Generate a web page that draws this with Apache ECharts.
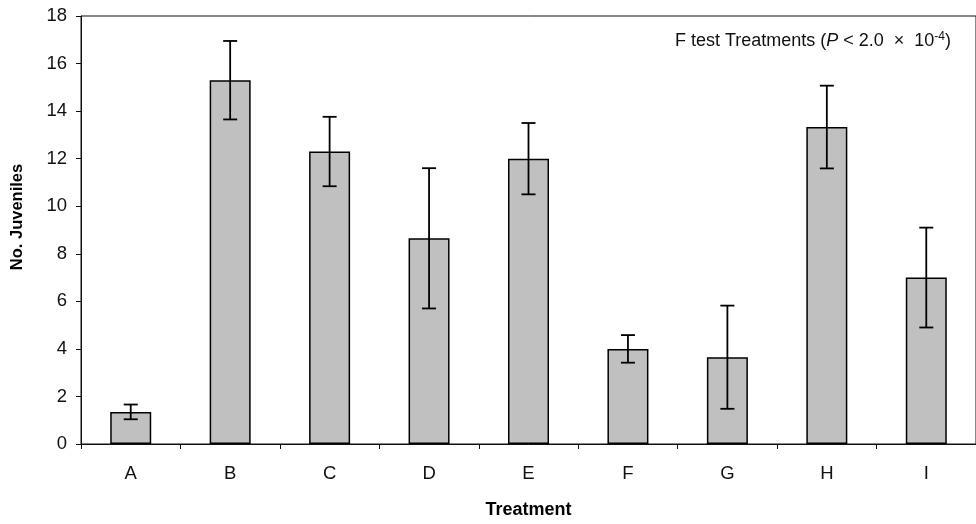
<!DOCTYPE html>
<html>
<head>
<meta charset="utf-8">
<script src="https://cdn.jsdelivr.net/npm/echarts@6/dist/echarts.min.js"></script>
<style>
html,body{margin:0;padding:0;background:#fff;}
#chart{width:976px;height:524px;}
</style>
</head>
<body>
<div id="chart"></div>
<script>
const categories = ['A', 'B', 'C', 'D', 'E', 'F', 'G', 'H', 'I'];
const means = [1.35, 15.3, 12.3, 8.65, 12.0, 4.0, 3.65, 13.33, 7.0];
const errors = [0.31, 1.65, 1.46, 2.95, 1.5, 0.58, 2.17, 1.74, 2.1];
const yTicks = [0, 2, 4, 6, 8, 10, 12, 14, 16, 18];

const FONT = '"Liberation Sans", Arial, sans-serif';
const chart = echarts.init(document.getElementById('chart'), null, {renderer: 'canvas'});

const errData = categories.map((c, i) => [i, means[i], errors[i]]);

chart.setOption({
  animation: false,
  backgroundColor: '#ffffff',
  grid: {
    left: 81, right: -5, top: 16, bottom: 80,
    show: true, borderColor: '#111', borderWidth: 1, backgroundColor: 'transparent'
  },
  xAxis: {
    type: 'category',
    data: categories,
    name: 'Treatment',
    nameLocation: 'middle',
    nameGap: 57,
    nameTextStyle: {fontFamily: FONT, fontWeight: 'bold', fontSize: 18, color: '#000'},
    axisLine: {lineStyle: {color: '#111', width: 1}},
    axisTick: {show: true, length: 5, interval: 0, alignWithLabel: false, lineStyle: {color: '#111'}},
    axisLabel: {fontFamily: FONT, fontSize: 18.5, color: '#111', margin: 20, interval: 0}
  },
  yAxis: {
    type: 'value',
    min: yTicks[0],
    max: yTicks[yTicks.length - 1],
    interval: 2,
    axisLine: {show: true, lineStyle: {color: '#111', width: 1}},
    axisTick: {show: true, length: 5, lineStyle: {color: '#111'}},
    splitLine: {show: false},
    axisLabel: {fontFamily: FONT, fontSize: 18.5, color: '#111', margin: 14}
  },
  graphic: [
    {
      type: 'text',
      x: 17.5, y: 217,
      rotation: Math.PI / 2,
      style: {
        text: 'No. Juveniles',
        font: 'bold 16.5px ' + FONT,
        fill: '#000',
        align: 'center',
        verticalAlign: 'middle'
      }
    },
    {
      type: 'text',
      x: 951, y: 41,
      style: {
        text: '{n|F test Treatments (}{i|P}{n| < 2.0  ×  10}{s|-4}{n|)}',
        align: 'right',
        verticalAlign: 'middle',
        rich: {
          n: {fontFamily: FONT, fontSize: 18, fill: '#111', color: '#111'},
          i: {fontFamily: FONT, fontSize: 18, fontStyle: 'italic', fill: '#111', color: '#111'},
          s: {fontFamily: FONT, fontSize: 12, fill: '#111', color: '#111', verticalAlign: 'top', padding: [0, 0, 9, 0]}
        }
      }
    }
  ],
  series: [
    {
      type: 'bar',
      data: means,
      barWidth: 41,
      itemStyle: {color: '#C0C0C0', borderColor: '#000', borderWidth: 1.5},
      z: 2
    },
    {
      type: 'custom',
      data: errData,
      z: 5,
      renderItem: function (params, api) {
        const x = api.value(0);
        const m = api.value(1);
        const e = api.value(2);
        const top = api.coord([x, m + e]);
        const bot = api.coord([x, m - e]);
        const hw = 7;
        const st = {stroke: '#000', lineWidth: 1.8};
        return {
          type: 'group',
          children: [
            {type: 'line', shape: {x1: top[0], y1: top[1], x2: bot[0], y2: bot[1]}, style: st},
            {type: 'line', shape: {x1: top[0] - hw, y1: top[1], x2: top[0] + hw, y2: top[1]}, style: st},
            {type: 'line', shape: {x1: bot[0] - hw, y1: bot[1], x2: bot[0] + hw, y2: bot[1]}, style: st}
          ]
        };
      }
    }
  ]
});
</script>
</body>
</html>
